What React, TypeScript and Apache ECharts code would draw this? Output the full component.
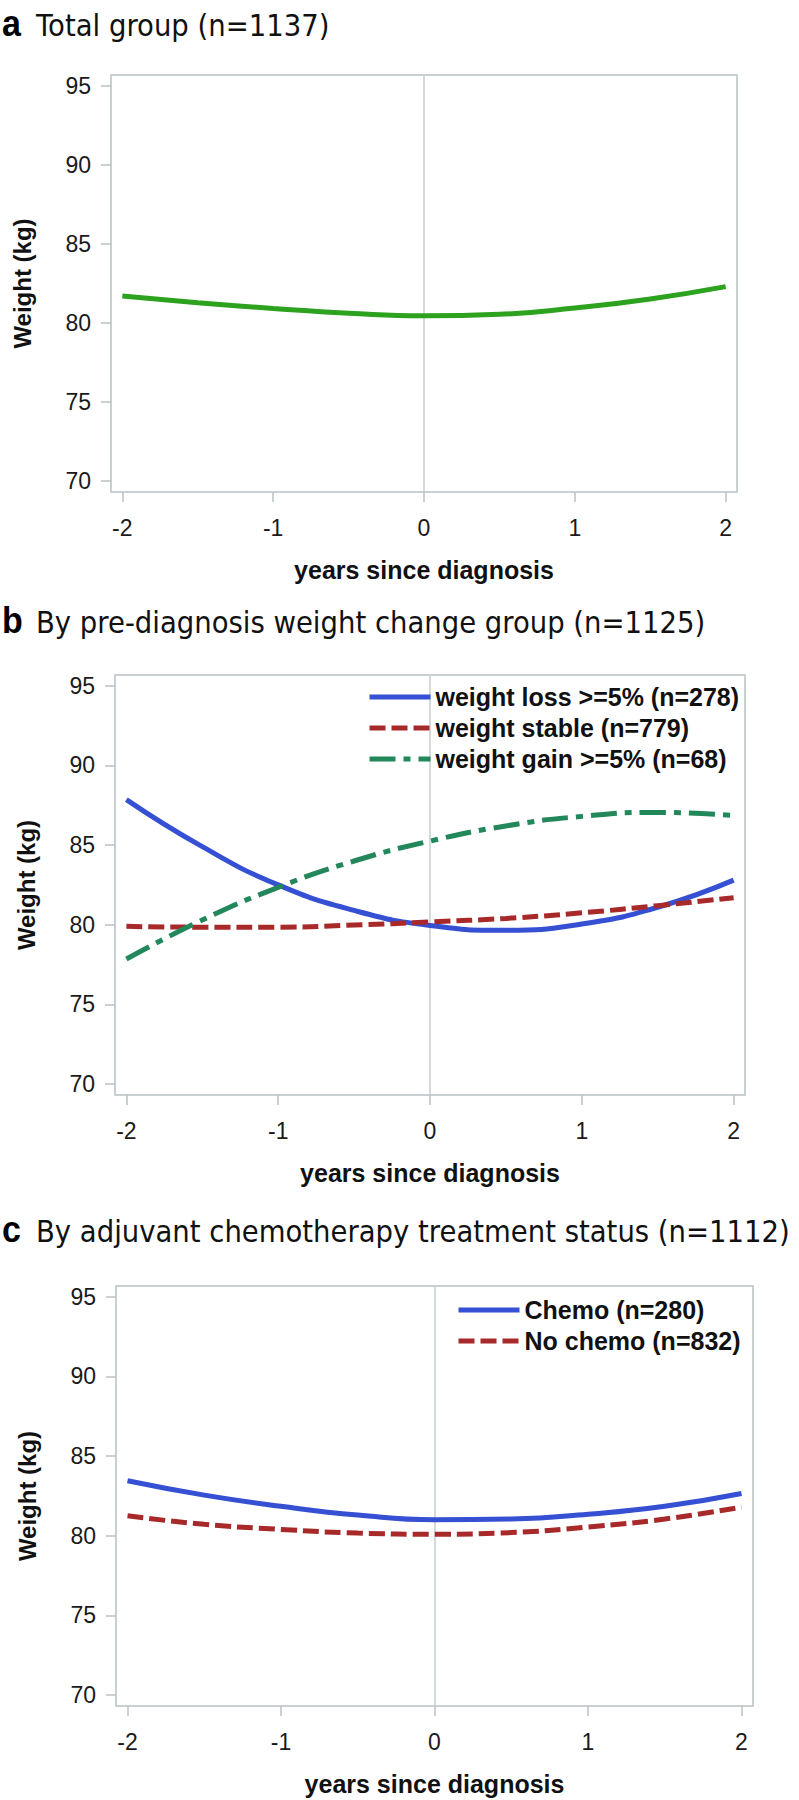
import React, { useEffect, useRef } from 'react';
import * as echarts from 'echarts';

// ---- data ----
const years = [-2, -1.5, -1, -0.5, 0, 0.5, 1, 1.5, 2];
const xTicks = [-2, -1, 0, 1, 2];
const yTicks = [70, 75, 80, 85, 90, 95];

const totalGroup = [81.7, 81.28, 80.92, 80.62, 80.45, 80.55, 80.95, 81.52, 82.3];

const weightLoss = [87.85, 84.9, 82.5, 80.9, 79.95, 79.65, 80.05, 81.1, 82.8];
const weightStable = [79.9, 79.85, 79.85, 79.98, 80.18, 80.4, 80.75, 81.2, 81.7];
const weightGain = [77.85, 80.3, 82.35, 84.0, 85.25, 86.2, 86.8, 87.05, 86.85];

const chemo = [83.45, 82.55, 81.85, 81.3, 81.0, 81.05, 81.35, 81.85, 82.65];
const noChemo = [81.25, 80.72, 80.4, 80.17, 80.1, 80.2, 80.55, 81.05, 81.8];

const panelLetters = ['a', 'b', 'c'];
const panelTitles = [
  'Total group (n=1137)',
  'By pre-diagnosis weight change group (n=1125)',
  'By adjuvant chemotherapy treatment status (n=1112)',
];
const namesB = ['weight loss >=5% (n=278)', 'weight stable (n=779)', 'weight gain >=5% (n=68)'];
const namesC = ['Chemo (n=280)', 'No chemo (n=832)'];

const FRAME = '#b9c1c4';
const REF = '#c6cdd0';
const BLUE = '#3550d2';
const RED = '#a8292a';
const DGREEN = '#22875a';
const GREEN = '#2ca21f';

const grids = [
  { left: 111, top: 75, width: 626, height: 417 },
  { left: 115, top: 675, width: 630, height: 420 },
  { left: 116, top: 1286, width: 637, height: 420 },
];
const titleBaselines = [35, 632, 1241];

const pairs = (ys: number[]) => years.map((x, i) => [x, ys[i]]);

export default function App() {
  const ref = useRef<HTMLDivElement>(null);
  useEffect(() => {
    document.body.style.margin = '0';
    const chart = echarts.init(ref.current!, null, { renderer: 'svg' });

    const xAxes = grids.map((_, i) => ({
      type: 'value',
      gridIndex: i,
      min: -2.075,
      max: 2.075,
      axisLine: { show: false, onZero: false },
      splitLine: { show: false },
      axisTick: { show: true, customValues: xTicks, length: 10, lineStyle: { color: FRAME, width: 1.5 } },
      axisLabel: {
        customValues: xTicks,
        margin: 24,
        fontSize: 23,
        fontFamily: 'Liberation Sans',
        color: '#1a1a1a',
        formatter: (v: number) => String(v),
      },
      name: 'years since diagnosis',
      nameLocation: 'middle',
      nameGap: 65,
      nameTextStyle: { fontSize: 25, fontWeight: 'bold', fontFamily: 'Liberation Sans', color: '#111' },
    }));

    const yAxes = grids.map((_, i) => ({
      type: 'value',
      gridIndex: i,
      min: 69.32,
      max: 95.67,
      axisLine: { show: false, onZero: false },
      splitLine: { show: false },
      axisTick: { show: true, customValues: yTicks, length: 10, lineStyle: { color: FRAME, width: 1.5 } },
      axisLabel: {
        customValues: yTicks,
        margin: 20,
        fontSize: 23,
        fontFamily: 'Liberation Sans',
        color: '#1a1a1a',
      },
      name: 'Weight (kg)',
      nameLocation: 'middle',
      nameGap: 77,
      nameTextStyle: { fontSize: 24, fontWeight: 'bold', fontFamily: 'Liberation Sans', color: '#111' },
    }));

    const refLine = {
      silent: true,
      symbol: 'none',
      z: 1,
      label: { show: false },
      lineStyle: { color: REF, width: 1.5, type: 'solid' },
      data: [{ xAxis: 0 }],
    };

    const mk = (name: string, idx: number, ys: number[], color: string, type: any, withRef = false) => ({
      type: 'line',
      name,
      xAxisIndex: idx,
      yAxisIndex: idx,
      data: pairs(ys),
      smooth: true,
      symbol: 'none',
      showSymbol: false,
      z: 3,
      lineStyle: { color, width: 5, type, cap: 'butt' },
      itemStyle: { color },
      ...(withRef ? { markLine: refLine } : {}),
    });

    const series = [
      mk('Total group', 0, totalGroup, GREEN, 'solid', true),
      mk(namesB[0], 1, weightLoss, BLUE, 'solid', true),
      mk(namesB[1], 1, weightStable, RED, [16, 6]),
      mk(namesB[2], 1, weightGain, DGREEN, [26, 8, 7, 8]),
      mk(namesC[0], 2, chemo, BLUE, 'solid', true),
      mk(namesC[1], 2, noChemo, RED, [16, 6]),
    ];

    const legendBase = {
      orient: 'vertical',
      itemWidth: 61,
      itemHeight: 14,
      itemGap: 1,
      padding: 0,
      selectedMode: false,
      itemStyle: { opacity: 0 },
      lineStyle: { width: 5 },
      textStyle: { fontSize: 25, fontWeight: 'bold', fontFamily: 'Liberation Sans', color: '#111', lineHeight: 30 },
    };

    const graphic: any[] = [];
    panelLetters.forEach((l, i) => {
      graphic.push({
        type: 'text',
        x: 2,
        y: titleBaselines[i] - 11.5,
        scaleY: 1.08,
        style: {
          text: l,
          fontSize: 34,
          fontWeight: 'bold',
          fontFamily: 'Liberation Sans',
          fill: '#000',
          verticalAlign: 'middle',
        },
      });
      graphic.push({
        type: 'text',
        x: 36,
        y: titleBaselines[i] - 9.5,
        scaleY: 1.08,
        style: {
          text: panelTitles[i],
          fontSize: 27.5,
          fontFamily: 'DejaVu Sans',
          fill: '#111',
          verticalAlign: 'middle',
        },
      });
    });

    chart.setOption({
      animation: false,
      backgroundColor: '#fff',
      grid: grids.map((g) => ({ ...g, show: true, borderColor: FRAME, borderWidth: 1.5, backgroundColor: 'transparent' })),
      xAxis: xAxes,
      yAxis: yAxes,
      legend: [
        { ...legendBase, data: namesB, left: 367, top: 682 },
        { ...legendBase, data: namesC, left: 456, top: 1295 },
      ],
      series,
      graphic,
    } as any);

    return () => chart.dispose();
  }, []);
  return <div ref={ref} style={{ width: 799, height: 1800 }} />;
}
